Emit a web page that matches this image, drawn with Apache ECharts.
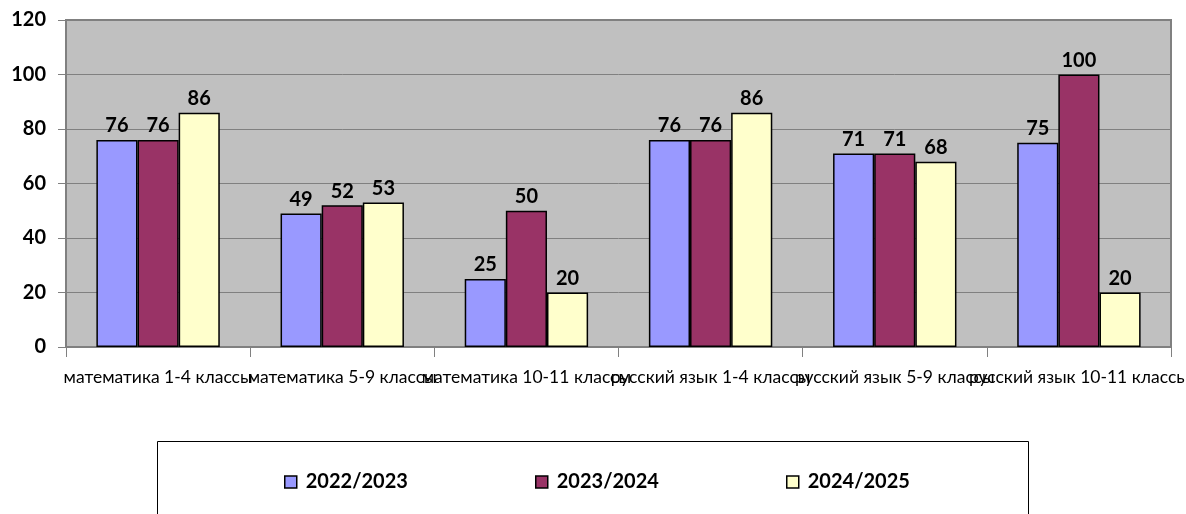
<!DOCTYPE html>
<html>
<head>
<meta charset="utf-8">
<script src="https://cdn.jsdelivr.net/npm/echarts@6/dist/echarts.min.js"></script>
<style>
  html, body { margin: 0; padding: 0; background: #fff; }
  #chart { width: 1186px; height: 514px; }
</style>
</head>
<body>
<div id="chart"></div>
<script>
const categories = ['математика 1-4 классы', 'математика 5-9 классы', 'математика 10-11 классы', 'русский язык 1-4 классы', 'русский язык 5-9 классы', 'русский язык 10-11 классы']
const seriesNames = ['2022/2023', '2023/2024', '2024/2025']
const values2022 = [76, 49, 25, 76, 71, 75]
const values2023 = [76, 52, 50, 76, 71, 100]
const values2024 = [86, 53, 20, 86, 68, 20]
const colors = ['#9999ff', '#993366', '#ffffcc']

const font = 'Lato, "DejaVu Sans", sans-serif'

function barSeries (name, data, color) {
  return {
    name: name,
    type: 'bar',
    data: data,
    barGap: '0%',
    barCategoryGap: '33%',
    itemStyle: { color: color, borderColor: '#000', borderWidth: 1.5 },
    label: {
      show: true,
      position: 'top',
      distance: 4,
      color: '#000',
      fontFamily: font,
      fontWeight: 'bold',
      fontSize: 20
    }
  }
}

const legendLefts = [284, 535, 786]

const chart = echarts.init(document.getElementById('chart'))
chart.setOption({
  animation: false,
  textStyle: { fontFamily: font },
  grid: {
    left: 66, right: 15, top: 20, bottom: 167,
    outerBoundsMode: 'none',
    containLabel: false,
    show: true,
    backgroundColor: '#c0c0c0',
    borderColor: '#808080',
    borderWidth: 2
  },
  graphic: [{
    type: 'rect',
    shape: { x: 157.5, y: 441.5, width: 871, height: 120 },
    style: { fill: 'none', stroke: '#000', lineWidth: 1 },
    z: 0
  }],
  legend: seriesNames.map((n, i) => ({
    data: [n],
    left: legendLefts[i],
    top: 472,
    icon: 'rect',
    itemWidth: 12,
    itemHeight: 12,
    itemGap: 0,
    padding: 0,
    itemStyle: { borderColor: '#000', borderWidth: 1.5 },
    textStyle: { fontFamily: font, fontWeight: 'bold', fontSize: 20, color: '#000', padding: [0, 0, 0, 4] }
  })),
  xAxis: {
    type: 'category',
    data: categories,
    axisLine: { show: true, lineStyle: { color: '#808080', width: 1 } },
    axisTick: { show: true, length: 10, lineStyle: { color: '#808080' } },
    axisLabel: {
      interval: 0,
      margin: 21,
      hideOverlap: false,
      overflow: 'none',
      color: '#000',
      fontFamily: font,
      fontSize: 17.5
    }
  },
  yAxis: {
    type: 'value',
    min: 0,
    max: 120,
    interval: 20,
    axisLine: { show: true, lineStyle: { color: '#808080', width: 2 } },
    axisTick: { show: true, length: 8, lineStyle: { color: '#808080' } },
    splitLine: { show: true, lineStyle: { color: '#808080', width: 1 } },
    axisLabel: {
      margin: 20,
      color: '#000',
      fontFamily: font,
      fontWeight: 'bold',
      fontSize: 20
    }
  },
  series: [
    barSeries(seriesNames[0], values2022, colors[0]),
    barSeries(seriesNames[1], values2023, colors[1]),
    barSeries(seriesNames[2], values2024, colors[2])
  ]
})
</script>
</body>
</html>
